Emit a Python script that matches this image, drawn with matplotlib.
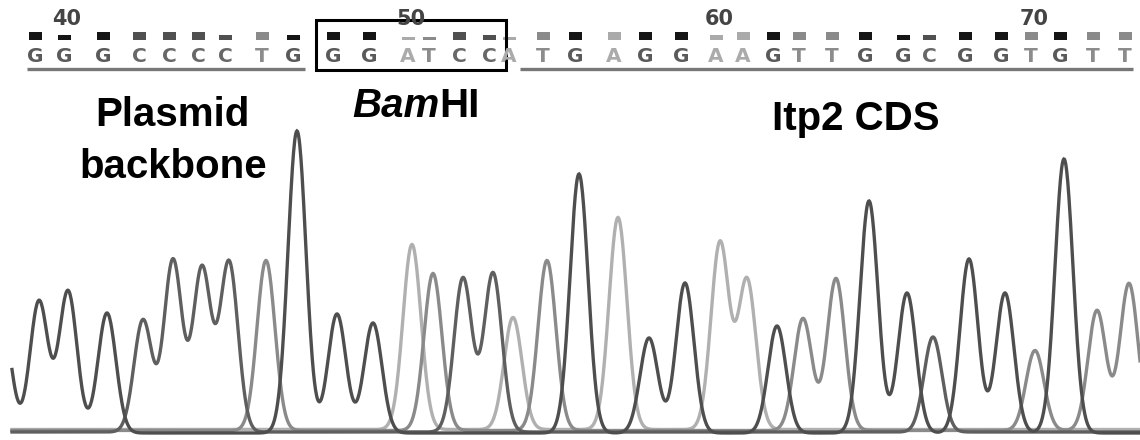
import matplotlib.pyplot as plt
import matplotlib.patches as mpatches
import numpy as np

# base calls 39..73 and the peak of each base in the trace
bases = list("GGGCCCCTGGGATCCATGAGGAAGTTGGCGGTGTT")
base_num = list(range(39, 74))
peak_x = [39, 68, 107, 143, 173, 202, 229, 266, 297, 337, 373,
          412, 433, 463, 493, 513, 547, 579, 618, 649, 685, 720, 747,
          777, 803, 836, 869, 907, 933, 969, 1005, 1035, 1064, 1097, 1129]
peak_h = [132, 142, 120, 112, 172, 164, 170, 170, 302, 119, 110,
          185, 157, 154, 159, 112, 170, 259, 212, 95, 150, 187, 150,
          107, 112, 152, 232, 140, 95, 174, 140, 80, 274, 120, 147]
# call quality bars (1 = full box)
quality = [1.0, 0.65, 1.0, 1.0, 1.0, 1.0, 0.65, 1.0, 0.65, 1.0, 1.0,
           0.35, 0.35, 1.0, 0.65, 0.35, 1.0, 1.0, 1.0, 1.0, 1.0, 0.65, 1.0,
           1.0, 1.0, 1.0, 1.0, 0.65, 0.65, 1.0, 1.0, 1.0, 1.0, 1.0, 1.0]
# peak of the base before 39, cut off at the left edge
lead_base, lead_x, lead_h = "G", 2, 115

tick_nums = [40, 50, 60, 70]
box_range = (48, 53)          # BamHI site GGATCC
underline_left = (39, 47)
underline_right = (54, 73)

trace_col = {"G": "#4e4e4e", "C": "#5f5f5f", "T": "#8a8a8a", "A": "#b0b0b0"}
letter_col = {"G": "#5a5a5a", "C": "#686868", "T": "#8c8c8c", "A": "#ababab"}
box_col = {"G": "#151515", "C": "#505050", "T": "#8a8a8a", "A": "#aaaaaa"}
offset = {"G": 0.0, "C": 1.0, "T": 2.5, "A": 3.5}

BASE_PX = 433
W, H = 1140, 440
SIGMA = 9.0


def Y(py):
    # image row -> data y
    return BASE_PX - py


fig = plt.figure(figsize=(W / 100, H / 100), dpi=100)
ax = fig.add_axes([0, 0, 1, 1])
ax.set_xlim(0, W)
ax.set_ylim(BASE_PX - H, BASE_PX)
ax.axis("off")

# traces
xs = np.linspace(12, W, 2000)
for b in ["A", "T", "C", "G"]:
    sig = np.zeros_like(xs)
    for px, ph, bb in zip(peak_x, peak_h, bases):
        if bb == b:
            sig += ph * np.exp(-(xs - px) ** 2 / (2 * SIGMA ** 2))
    if b == lead_base:
        sig += lead_h * np.exp(-(xs - lead_x) ** 2 / (2 * SIGMA ** 2))
    ax.plot(xs, sig + offset[b], color=trace_col[b], lw=2.4,
            solid_joinstyle="miter")

# base call row
letter_x = [p - 4 for p in peak_x]
for lx, b, q in zip(letter_x, bases, quality):
    ax.text(lx, Y(56), b, ha="center", va="center", fontsize=14.5,
            fontweight="bold", family="DejaVu Sans", color=letter_col[b])
    h = 8 * q
    ax.add_patch(mpatches.Rectangle((lx - 6.5, Y(40)), 13, h,
                                    color=box_col[b], lw=0))

for n in tick_nums:
    i = base_num.index(n)
    ax.text(letter_x[i] + 3, Y(19), str(n), ha="center", va="center",
            fontsize=15, fontweight="bold", family="DejaVu Sans",
            color="#444444")

i0, i1 = base_num.index(underline_left[0]), base_num.index(underline_left[1])
ax.plot([letter_x[i0] - 8, letter_x[i1] + 12], [Y(69), Y(69)],
        color="#777777", lw=2.4, solid_capstyle="butt")
i0, i1 = base_num.index(underline_right[0]), base_num.index(underline_right[1])
ax.plot([letter_x[i0] + 11, letter_x[i1] + 8], [Y(69), Y(69)],
        color="#777777", lw=2.4, solid_capstyle="butt")

i0, i1 = base_num.index(box_range[0]), base_num.index(box_range[1])
bx0, bx1 = letter_x[i0] - 17, letter_x[i1] + 17
ax.add_patch(mpatches.Rectangle((bx0, Y(70)), bx1 - bx0, 50, fill=False,
                                ec="black", lw=2.2))

# region labels
lab = dict(fontsize=29, fontweight="bold", family="Liberation Sans",
           color="black")
ax.text(172, Y(126), "Plasmid", ha="center", va="baseline", **lab)
ax.text(173, Y(178), "backbone", ha="center", va="baseline", **lab)
bam = ax.text(352, Y(125), "Bam", ha="left", va="bottom", style="italic",
              **lab)
ax.annotate("HI", xy=(1, 0), xycoords=bam, ha="left", va="bottom", **lab)
ax.text(856, Y(130), "Itp2 CDS", ha="center", va="baseline", **lab)

fig.savefig("out.png", dpi=100)
